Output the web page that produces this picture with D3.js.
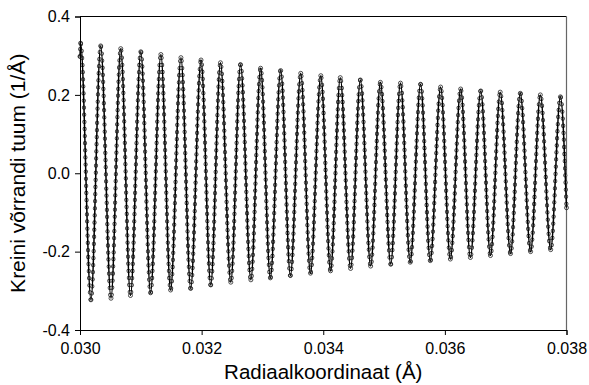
<!DOCTYPE html>
<html>
<head>
<meta charset="utf-8">
<script src="https://cdn.jsdelivr.net/npm/d3@7"></script>
<style>
  body { margin: 0; background: #fff; }
  text { font-family: Arial, "Liberation Sans", sans-serif; fill: #000; }
</style>
</head>
<body>
<div id="chart"></div>
<script>
// values
const xTicks = [0.030, 0.032, 0.034, 0.036, 0.038];
const yTicks = [-0.4, -0.2, 0.0, 0.2, 0.4];

const peakX = [0.03001, 0.03034, 0.03067, 0.03100, 0.03133, 0.03166, 0.03199, 0.03231, 0.03264,
               0.03297, 0.03330, 0.03363, 0.03396, 0.03428, 0.03461, 0.03494, 0.03527, 0.03560,
               0.03593, 0.03626, 0.03659, 0.03691, 0.03724, 0.03757, 0.03790];
const peakY = [0.332, 0.325, 0.318, 0.310, 0.303, 0.295, 0.289, 0.282, 0.277,
               0.268, 0.262, 0.255, 0.249, 0.244, 0.238, 0.232, 0.230, 0.227,
               0.220, 0.215, 0.210, 0.207, 0.204, 0.200, 0.195];
const troughX = [0.03018, 0.03051, 0.03083, 0.03116, 0.03149, 0.03182, 0.03215, 0.03248,
                 0.03281, 0.03313, 0.03346, 0.03379, 0.03412, 0.03445, 0.03478, 0.03511,
                 0.03543, 0.03576, 0.03609, 0.03642, 0.03675, 0.03708, 0.03741, 0.03774];
const troughY = [-0.323, -0.319, -0.312, -0.305, -0.298, -0.294, -0.285, -0.278,
                 -0.272, -0.267, -0.261, -0.255, -0.249, -0.243, -0.237, -0.232,
                 -0.227, -0.223, -0.219, -0.215, -0.210, -0.205, -0.200, -0.195];
const startPoint = [0.03000, 0.298];
const endPoint = [0.03800, -0.088];

let dim = { width: 589, height: 385 };
let plot = { left: 80, right: 566.5, top: 16.5, bottom: 330 };

let svg = d3.select('#chart').append('svg')
    .attr('width', dim.width)
    .attr('height', dim.height);

let scaleX = d3.scaleLinear().domain([0.030, 0.038]).range([plot.left, plot.right]);
let scaleY = d3.scaleLinear().domain([-0.4, 0.4]).range([plot.bottom, plot.top]);

// build the series: start, alternating peaks and troughs, end
let points = [{ x: startPoint[0], y: startPoint[1] }];
for (let i = 0; i < peakX.length; i++) {
    points.push({ x: peakX[i], y: peakY[i] });
    if (i < troughX.length) points.push({ x: troughX[i], y: troughY[i] });
}
points.push({ x: endPoint[0], y: endPoint[1] });

let line = d3.line()
    .x(d => scaleX(d.x))
    .y(d => scaleY(d.y))
    .curve(d3.curveMonotoneX);

// frame: top black, right grey
svg.append('line')
    .attr('x1', plot.left).attr('x2', plot.right)
    .attr('y1', plot.top).attr('y2', plot.top)
    .attr('stroke', '#000').attr('stroke-width', 1);
svg.append('line')
    .attr('x1', plot.right).attr('x2', plot.right)
    .attr('y1', plot.top).attr('y2', plot.bottom)
    .attr('stroke', '#666').attr('stroke-width', 1.2);

// marker texture along the curve (rings = dark dash under a light dash)
svg.append('path')
    .datum(points)
    .attr('d', line)
    .attr('fill', 'none')
    .attr('stroke', '#333')
    .attr('stroke-width', 4.2)
    .attr('stroke-linecap', 'round')
    .attr('stroke-dasharray', '0.1 7');
svg.append('path')
    .datum(points)
    .attr('d', line)
    .attr('fill', 'none')
    .attr('stroke', '#ddd')
    .attr('stroke-width', 2.6)
    .attr('stroke-linecap', 'round')
    .attr('stroke-dasharray', '0.1 7');

svg.append('path')
    .datum(points)
    .attr('d', line)
    .attr('fill', 'none')
    .attr('stroke', '#000')
    .attr('stroke-width', 1.5);

svg.selectAll('circle.pt')
    .data(points)
    .enter()
    .append('circle')
    .attr('class', 'pt')
    .attr('cx', d => scaleX(d.x))
    .attr('cy', d => scaleY(d.y))
    .attr('r', 2)
    .attr('fill', 'none')
    .attr('stroke', '#222')
    .attr('stroke-width', 0.8);

// axes
let axisX = svg.append('g')
    .attr('transform', `translate(0,${plot.bottom})`)
    .call(d3.axisBottom(scaleX).tickValues(xTicks).tickFormat(d3.format('.3f')).tickSizeOuter(0).tickSize(5));
let axisY = svg.append('g')
    .attr('transform', `translate(${plot.left},0)`)
    .call(d3.axisLeft(scaleY).tickValues(yTicks).tickFormat(d => d3.format('.1f')(d).replace('−', '-')).tickSizeOuter(0).tickSize(5));

[axisX, axisY].forEach(a => {
    a.select('.domain').attr('stroke', '#000').attr('stroke-width', 1);
    a.selectAll('.tick line').attr('stroke', '#000');
    a.selectAll('.tick text').attr('font-size', 16).attr('fill', '#000')
        .style('font-family', 'Arial, "Liberation Sans", sans-serif');
});
axisX.selectAll('.tick text').attr('dy', '1.0em');
axisY.selectAll('.tick text').attr('x', -10);

svg.append('text')
    .attr('x', (plot.left + plot.right) / 2)
    .attr('y', 379)
    .attr('text-anchor', 'middle')
    .attr('font-size', 20.5)
    .text('Radiaalkoordinaat (Å)');

svg.append('text')
    .attr('transform', `translate(25,${(plot.top + plot.bottom) / 2}) rotate(-90)`)
    .attr('text-anchor', 'middle')
    .attr('font-size', 21)
    .text('Kreini võrrandi tuum (1/Å)');
</script>
</body>
</html>
